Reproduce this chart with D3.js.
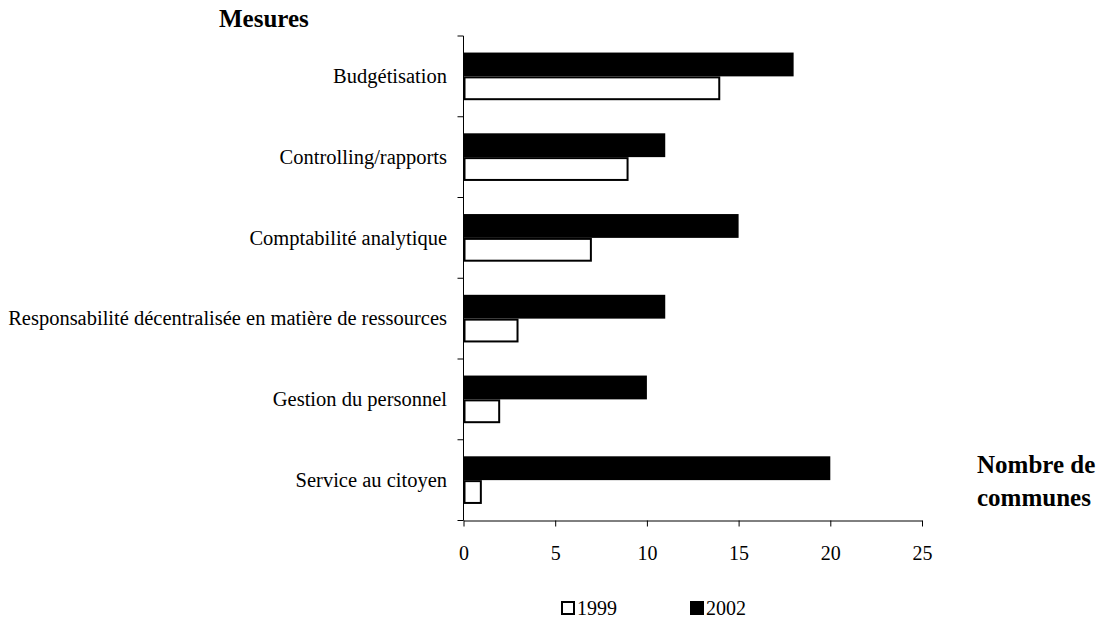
<!DOCTYPE html>
<html>
<head>
<meta charset="utf-8">
<script src="https://cdn.jsdelivr.net/npm/d3@7"></script>
<style>
  html, body { margin: 0; padding: 0; background: #fff; }
  svg { display: block; }
  svg text { font-family: "Liberation Serif", "Times New Roman", serif; fill: #000; }
</style>
</head>
<body>
<svg id="chart" width="1103" height="619"></svg>
<script>
// Mesures introduced by the communes, counted in 1999 and 2002
const categories = [
  "Budgétisation",
  "Controlling/rapports",
  "Comptabilité analytique",
  "Responsabilité décentralisée en matière de ressources",
  "Gestion du personnel",
  "Service au citoyen"
];
const values1999 = [14, 9, 7, 3, 2, 1];
const values2002 = [18, 11, 15, 11, 10, 20];
const seriesNames = ["2002", "1999"];
const xTicks = [0, 5, 10, 15, 20, 25];

const FONT = "Liberation Serif, Times New Roman, serif";
const svg = d3.select("#chart");
const plot = { left: 463.5, right: 922, top: 36, bottom: 520.5 };

const x = d3.scaleLinear().domain([0, 25]).range([plot.left, plot.right]);
const y = d3.scaleBand().domain(categories).range([plot.top, plot.bottom])
  .paddingInner(0.41).paddingOuter(0.205);
const ySub = d3.scaleBand().domain(seriesNames).range([0, y.bandwidth()]);

const rows = categories.map((c, i) => ({ c, v: { "1999": values1999[i], "2002": values2002[i] } }));

// Bars: 2002 solid black on top, 1999 white with black outline below
const g = svg.append("g");
rows.forEach(r => {
  seriesNames.forEach(s => {
    const filled = s === "2002";
    const sw = 2;
    g.append("rect")
      .attr("x", x(0) + (filled ? 0 : sw / 2))
      .attr("y", y(r.c) + ySub(s) + (filled ? 0 : sw / 2))
      .attr("width", x(r.v[s]) - x(0) - (filled ? 0 : sw))
      .attr("height", ySub.bandwidth() - (filled ? 0 : sw))
      .attr("fill", filled ? "#000" : "#fff")
      .attr("stroke", filled ? "none" : "#000")
      .attr("stroke-width", filled ? 0 : sw);
  });
});

// Category axis: ticks between bands, labels centred on each band
const yAxisG = svg.append("g");
yAxisG.append("line")
  .attr("x1", plot.left).attr("x2", plot.left)
  .attr("y1", plot.top).attr("y2", plot.bottom)
  .attr("stroke", "#000").attr("stroke-width", 1);
const step = (plot.bottom - plot.top) / categories.length;
d3.range(categories.length + 1).forEach(i => {
  const yy = plot.top + i * step;
  yAxisG.append("line")
    .attr("x1", plot.left - 6).attr("x2", plot.left)
    .attr("y1", yy).attr("y2", yy)
    .attr("stroke", "#000").attr("stroke-width", 1);
});
yAxisG.selectAll("text.cat").data(categories).join("text")
  .attr("class", "cat")
  .attr("x", 447)
  .attr("y", d => y(d) + y.bandwidth() / 2)
  .attr("dy", "0.33em")
  .attr("text-anchor", "end")
  .attr("font-family", FONT)
  .attr("font-size", 20.5)
  .text(d => d);

// Value axis
const xAxis = d3.axisBottom(x).tickValues(xTicks).tickSize(6).tickSizeOuter(0).tickPadding(19);
const xAxisG = svg.append("g")
  .attr("transform", `translate(0,${plot.bottom})`)
  .call(xAxis);
xAxisG.attr("font-family", FONT).attr("font-size", 20);
xAxisG.select(".domain").attr("stroke", "#000");
xAxisG.selectAll(".tick line").attr("stroke", "#000");
xAxisG.selectAll(".tick text")
  .attr("font-family", FONT)
  .attr("font-size", 20)
  .attr("fill", "#000");

// Titles
const title = (txt, tx, ty) => svg.append("text")
  .attr("x", tx).attr("y", ty)
  .attr("font-family", FONT)
  .attr("font-size", 25).attr("font-weight", "bold")
  .text(txt);
title("Mesures", 219, 27);
title("Nombre de", 977, 473);
title("communes", 977, 506);

// Legend
const legend = [
  { name: "1999", filled: false, x: 561 },
  { name: "2002", filled: true, x: 690 }
];
const lg = svg.append("g");
legend.forEach(l => {
  lg.append("rect")
    .attr("x", l.x + (l.filled ? 0 : 1)).attr("y", 601 + (l.filled ? 0 : 1))
    .attr("width", l.filled ? 14 : 12).attr("height", l.filled ? 14 : 12)
    .attr("fill", l.filled ? "#000" : "#fff")
    .attr("stroke", l.filled ? "none" : "#000")
    .attr("stroke-width", l.filled ? 0 : 2);
  lg.append("text")
    .attr("x", l.x + 16).attr("y", 615)
    .attr("font-family", FONT)
    .attr("font-size", 20)
    .text(l.name);
});
</script>
</body>
</html>
